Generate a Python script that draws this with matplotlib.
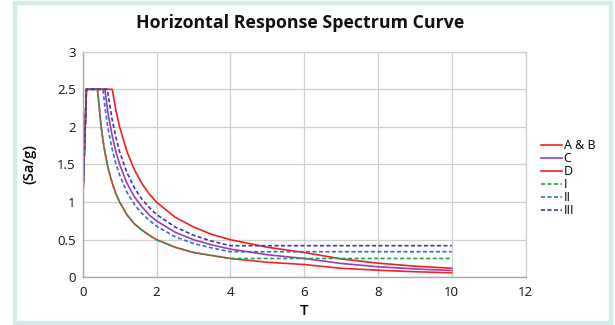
import matplotlib
matplotlib.use("Agg")
import matplotlib.pyplot as plt
from matplotlib.patches import Rectangle

plt.rcParams['font.family'] = ['Open Sans', 'DejaVu Sans']

# period T (s) sampled along the curves
T = [0, 0.1, 0.4, 0.5, 0.55, 0.6, 0.67, 0.7, 0.8, 0.9, 1.0, 1.2, 1.4, 1.6, 1.8,
     2.0, 2.5, 3.0, 3.5, 4.0, 5.0, 6.0, 7.0, 8.0, 9.0, 10.0]

# solid curves (site classes)
sa_ab = [1.0, 2.5, 2.5, 2.0, 1.82, 1.67, 1.49, 1.43, 1.25, 1.11, 1.0, 0.83, 0.71, 0.63, 0.56,
         0.5, 0.4, 0.33, 0.29, 0.25, 0.2, 0.17, 0.12, 0.094, 0.074, 0.06]
sa_c = [1.0, 2.5, 2.5, 2.5, 2.5, 2.5, 2.24, 2.14, 1.88, 1.67, 1.5, 1.25, 1.07, 0.94, 0.83,
        0.75, 0.6, 0.5, 0.43, 0.375, 0.3, 0.25, 0.184, 0.14, 0.111, 0.09]
sa_d = [1.0, 2.5, 2.5, 2.5, 2.5, 2.5, 2.5, 2.5, 2.5, 2.22, 2.0, 1.67, 1.43, 1.25, 1.11,
        1.0, 0.8, 0.67, 0.57, 0.5, 0.4, 0.33, 0.245, 0.188, 0.148, 0.12]

# dashed curves (soil types)
sa_1 = [1.0, 2.5, 2.5, 2.0, 1.82, 1.67, 1.49, 1.43, 1.25, 1.11, 1.0, 0.83, 0.71, 0.63, 0.56,
        0.5, 0.4, 0.33, 0.29, 0.25, 0.25, 0.25, 0.25, 0.25, 0.25, 0.25]
sa_2 = [1.0, 2.5, 2.5, 2.5, 2.5, 2.27, 2.03, 1.94, 1.7, 1.51, 1.36, 1.13, 0.97, 0.85, 0.76,
        0.68, 0.54, 0.45, 0.39, 0.34, 0.34, 0.34, 0.34, 0.34, 0.34, 0.34]
sa_3 = [1.0, 2.5, 2.5, 2.5, 2.5, 2.5, 2.5, 2.39, 2.09, 1.86, 1.67, 1.39, 1.19, 1.04, 0.93,
        0.835, 0.67, 0.56, 0.48, 0.42, 0.42, 0.42, 0.42, 0.42, 0.42, 0.42]

labels = ['A & B', 'C', 'D', 'I', 'II', 'III']

fig = plt.figure(figsize=(6.15, 3.25), dpi=100)
ax = fig.add_axes([0.1345, 0.1468, 0.72, 0.6942])

# outer frame
fig.patches.append(Rectangle((15 / 615, 2 / 325), 596 / 615, 320 / 325, transform=fig.transFigure,
                             fill=False, edgecolor='#d3ecea', lw=3.2, zorder=0))

lw = 1.2
dash = (0, (2.4, 1.5))
ax.plot(T, sa_ab, color='#f5222a', lw=lw, label=labels[0])
ax.plot(T, sa_c, color='#9c3db4', lw=lw, label=labels[1])
ax.plot(T, sa_d, color='#ee2026', lw=lw, label=labels[2])
ax.plot(T, sa_1, color='#1fa34a', lw=lw, ls=dash, label=labels[3])
ax.plot(T, sa_2, color='#2f6fd0', lw=lw, ls=dash, label=labels[4])
ax.plot(T, sa_3, color='#3b3aa5', lw=lw, ls=dash, label=labels[5])

ax.set_xlim(0, 12)
ax.set_ylim(0, 3)
ax.set_xticks(range(0, 13, 2))
ax.set_yticks([0, 0.5, 1, 1.5, 2, 2.5, 3])
ax.set_yticklabels(['0', '0.5', '1', '1.5', '2', '2.5', '3'])
ax.grid(True, color='#cfcfcf', lw=0.9)
ax.set_axisbelow(True)
for s in ['top', 'right']:
    ax.spines[s].set_color('#cfcfcf')
    ax.spines[s].set_linewidth(0.9)
for s in ['left', 'bottom']:
    ax.spines[s].set_color('#a8a8a8')
    ax.spines[s].set_linewidth(1.0)
ax.tick_params(length=0, labelsize=9.5, colors='#111111')
ax.tick_params(axis='x', pad=6)
ax.tick_params(axis='y', pad=5)

ax.set_xlabel('T', fontsize=11, fontweight='semibold', labelpad=4)
ax.set_ylabel('(Sa/g)', fontsize=10.5, fontweight='semibold', labelpad=15)
fig.text(0.488, 0.93, 'Horizontal Response Spectrum Curve', ha='center', va='center',
         fontsize=12.8, fontweight='bold', color='#111111')

ax.legend(loc='center left', bbox_to_anchor=(1.02, 0.44), frameon=False, fontsize=9,
          handlelength=1.75, handletextpad=0.1, labelspacing=0.0, borderpad=0)

fig.savefig('out.png', dpi=100)
